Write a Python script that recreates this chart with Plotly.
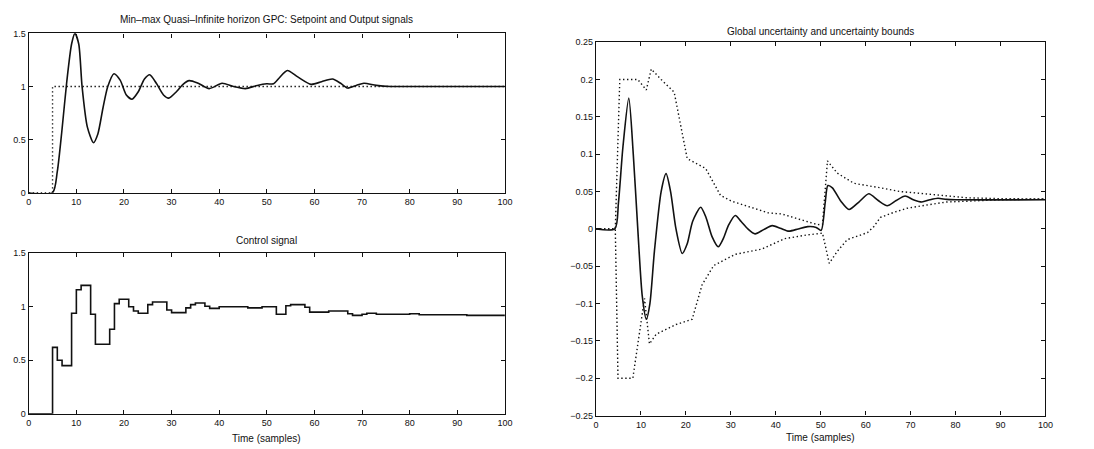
import plotly.graph_objects as go

# ---- Setpoint and output signals ----
setpoint_t = [0, 5, 100]
setpoint_y = [0, 1, 1]

output_t = [0, 5, 6, 7, 8, 9, 9.7, 10.5, 11.2, 12.3, 13.6, 14.5, 15.6, 16.6, 17.9,
            19.2, 20.5, 21.7, 23, 24.3, 25.4, 26.8, 28.3, 29.4, 31, 32.4, 33.7, 35.6,
            37.9, 40.6, 43, 45.5, 48, 50, 51.4, 52.6, 54.3, 56.5, 59.3, 61.5, 63.8,
            65.5, 67, 68.8, 70.4, 73, 76, 80, 100]
output_y = [0, 0, 0.2, 0.6, 1.05, 1.4, 1.5, 1.4, 1.0, 0.62, 0.47, 0.55, 0.8, 1.0, 1.12,
            1.06, 0.92, 0.88, 0.95, 1.07, 1.11, 1.03, 0.92, 0.89, 0.95, 1.02, 1.055, 1.03,
            0.98, 1.03, 1.0, 0.98, 1.01, 1.025, 1.025, 1.08, 1.15, 1.09, 1.02, 1.045, 1.07,
            1.03, 0.985, 1.01, 1.03, 1.01, 1.0, 1.0, 1.0]

# ---- Control signal (zero-order hold) ----
control_t = [0, 5, 6, 7, 9, 10, 11, 13, 14, 17, 18, 19, 21, 22, 23, 25, 26, 29, 30,
             33, 34, 35, 37, 38, 40, 46, 49, 52, 54, 55, 58, 59, 63, 67, 68, 70, 71,
             73, 80, 82, 92, 100]
control_u = [0, 0.62, 0.5, 0.45, 0.94, 1.16, 1.2, 0.93, 0.65, 0.79, 1.03, 1.07, 1.0,
             0.96, 0.94, 1.02, 1.045, 0.97, 0.945, 0.99, 1.02, 1.035, 1.005, 0.985,
             1.0, 0.99, 1.0, 0.93, 1.01, 1.02, 0.995, 0.95, 0.96, 0.935, 0.92, 0.93,
             0.94, 0.93, 0.935, 0.925, 0.92, 0.92]

# ---- Global uncertainty ----
unc_t = [0, 4.2, 5, 6, 7.3, 8.3, 9.3, 10.3, 11.2, 12, 13, 14.5, 15.6, 16.6, 17.8, 19.2,
         20.3, 21.5, 23.3, 24.5, 25.8, 27.2, 28.4, 29.5, 31, 32.3, 33.8, 35.4, 37.3,
         39.2, 41, 42.9, 45, 47.1, 49, 50.1, 51, 51.6, 52.6, 54.5, 56.3, 58.5, 60.7,
         62.8, 64.8, 66.8, 68.8, 70.6, 72.5, 74.3, 76.1, 78, 80, 100]
unc_y = [0, 0, 0.035, 0.11, 0.175, 0.1, 0.0, -0.09, -0.121, -0.1, -0.03, 0.05, 0.074,
         0.05, 0.0, -0.033, -0.02, 0.01, 0.029, 0.015, -0.01, -0.024, -0.012, 0.005,
         0.018, 0.01, 0.0, -0.0066, -0.001, 0.0044, 0.001, -0.003, 0.0, 0.003, 0.002,
         -0.002, 0.035, 0.058, 0.055, 0.037, 0.026, 0.036, 0.047, 0.038, 0.031, 0.038,
         0.044, 0.039, 0.036, 0.039, 0.041, 0.0395, 0.039, 0.039]

# ---- Uncertainty bounds ----
upper_t = [0, 4.3, 5.3, 9.3, 11.2, 12.3, 14.5, 17.4, 20.3, 24.4, 27.7, 30.2, 33.9,
           38.3, 41.3, 45, 49.3, 50.4, 51.5, 53.7, 57.4, 63.3, 67.7, 75, 82.4, 89.7, 100]
upper_y = [0, 0, 0.2, 0.2, 0.186, 0.214, 0.2, 0.183, 0.094, 0.081, 0.045, 0.037, 0.03,
           0.0215, 0.02, 0.013, 0.0057, 0.006, 0.091, 0.0746, 0.061, 0.055, 0.05, 0.046,
           0.0417, 0.0405, 0.04]

lower_t = [0, 4.3, 4.9, 8.2, 10.8, 11.9, 13.4, 17.8, 21.4, 23.6, 26.2, 31, 36.9, 39.1,
           42, 47.1, 50.4, 51.9, 53.7, 55.9, 60.4, 61.8, 63.3, 66.2, 69.2, 73.6, 78,
           82.4, 89.7, 100]
lower_y = [0, 0, -0.2, -0.2, -0.093, -0.154, -0.141, -0.128, -0.121, -0.075, -0.049,
           -0.034, -0.027, -0.021, -0.013, -0.008, -0.0057, -0.046, -0.03, -0.0144,
           -0.005, 0.003, 0.0154, 0.022, 0.0276, 0.032, 0.036, 0.037, 0.039, 0.04]

x_ticks = list(range(0, 101, 10))
left_y_ticks = [0, 0.5, 1, 1.5]
right_y_ticks = [-0.25, -0.2, -0.15, -0.1, -0.05, 0, 0.05, 0.1, 0.15, 0.2, 0.25]

INK = "#111111"
FONT = "Liberation Sans, Arial, sans-serif"

fig = go.Figure()

line_solid = dict(color=INK, width=1.6)
line_dot = dict(color=INK, width=1.4, dash="1.4px,2.6px")

fig.add_trace(go.Scatter(x=setpoint_t, y=setpoint_y, mode="lines", line=dict(shape="hv", **line_dot),
                         xaxis="x", yaxis="y"))
fig.add_trace(go.Scatter(x=output_t, y=output_y, mode="lines",
                         line=dict(shape="spline", smoothing=0.7, **line_solid),
                         xaxis="x", yaxis="y"))
fig.add_trace(go.Scatter(x=control_t, y=control_u, mode="lines", line=dict(shape="hv", **line_solid),
                         xaxis="x2", yaxis="y2"))
fig.add_trace(go.Scatter(x=upper_t, y=upper_y, mode="lines", line=line_dot, xaxis="x3", yaxis="y3"))
fig.add_trace(go.Scatter(x=lower_t, y=lower_y, mode="lines", line=line_dot, xaxis="x3", yaxis="y3"))
fig.add_trace(go.Scatter(x=unc_t, y=unc_y, mode="lines",
                         line=dict(shape="spline", smoothing=0.7, **line_solid),
                         xaxis="x3", yaxis="y3"))

W, H = 1094, 449


def xdom(a, b):
    return [a / W, b / W]


def ydom(top, bottom):
    return [1 - bottom / H, 1 - top / H]


axis_common = dict(showline=True, linecolor=INK, linewidth=1.3, mirror="allticks",
                   ticks="inside", ticklen=4, tickwidth=1, tickcolor=INK,
                   showgrid=False, zeroline=False,
                   tickfont=dict(family=FONT, size=9, color=INK))

fig.update_layout(
    width=W, height=H,
    margin=dict(l=0, r=0, t=0, b=0),
    paper_bgcolor="white", plot_bgcolor="white",
    showlegend=False,
    xaxis=dict(domain=xdom(26, 507), range=[0, 100], tickvals=x_ticks, anchor="y", **axis_common),
    yaxis=dict(domain=ydom(29, 192), range=[0, 1.5], tickvals=left_y_ticks, anchor="x", **axis_common),
    xaxis2=dict(domain=xdom(26, 507), range=[0, 100], tickvals=x_ticks, anchor="y2", **axis_common),
    yaxis2=dict(domain=ydom(254, 418), range=[0, 1.5], tickvals=left_y_ticks, anchor="x2", **axis_common),
    xaxis3=dict(domain=xdom(599, 1053), range=[0, 100], tickvals=x_ticks, anchor="y3", **axis_common),
    yaxis3=dict(domain=ydom(38, 420), range=[-0.25, 0.25], tickvals=right_y_ticks, anchor="x3",
                **axis_common),
)

title_font = dict(family=FONT, size=10, color=INK)
annotations = [
    dict(text="Min–max Quasi–Infinite horizon GPC: Setpoint and Output signals", x=266.5 / W, y=1 - 15 / H),
    dict(text="Control signal", x=266.5 / W, y=1 - 241 / H),
    dict(text="Global uncertainty and uncertainty bounds", x=826 / W, y=1 - 27 / H),
    dict(text="Time (samples)", x=266.5 / W, y=1 - 443 / H),
    dict(text="Time (samples)", x=826 / W, y=1 - 442 / H),
]
for a in annotations:
    fig.add_annotation(xref="paper", yref="paper", showarrow=False, xanchor="center", yanchor="middle",
                       font=title_font, **a)

fig.write_html("out.html")
